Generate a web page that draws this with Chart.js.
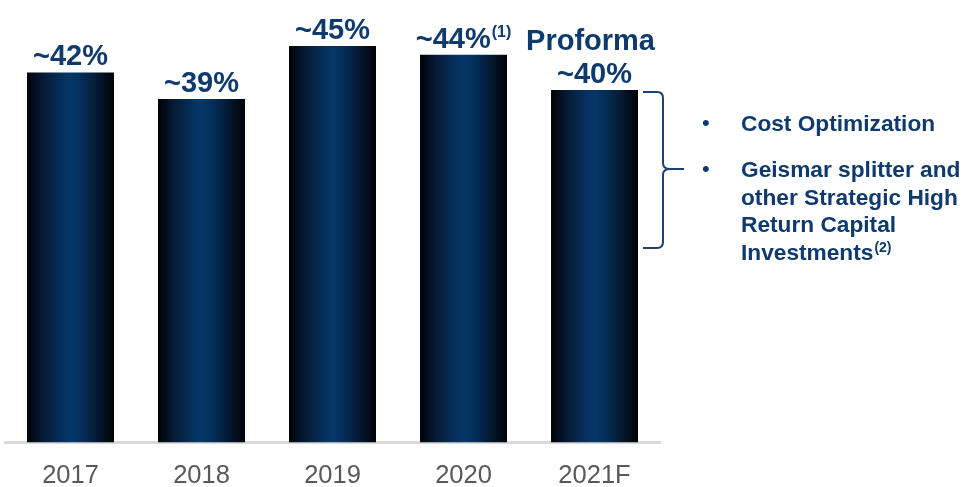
<!DOCTYPE html>
<html>
<head>
<meta charset="utf-8">
<script src="https://cdn.jsdelivr.net/npm/chart.js@4.4.1/dist/chart.umd.min.js"></script>
<style>
  html, body { margin: 0; padding: 0; background: #fff; }
  #wrap { width: 970px; height: 487px; position: relative; }
</style>
</head>
<body>
<div id="wrap"><canvas id="marginChart"></canvas></div>
<script>
const years = ["2017", "2018", "2019", "2020", "2021F"]
const margins = [42, 39, 45, 44, 40]
const marginLabels = ["~42%", "~39%", "~45%", "~44%", "~40%"]
const labelNotes = ["", "", "", "(1)", ""]
const proformaText = "Proforma"
const bullets = [
    ["Cost Optimization"],
    ["Geismar splitter and", "other Strategic High", "Return Capital", "Investments"]
]
const bulletNotes = ["", "(2)"]

const NAVY = "#0e3a6e"
const FONT = "'Liberation Sans', Arial, sans-serif"

function barGradient(context){
    const chart = context.chart
    const xs = chart.scales.x
    if(!chart.chartArea || !xs) return "#05336a"
    const cx = xs.getPixelForValue(context.dataIndex)
    const half = (xs.width / years.length) * 0.664 / 2
    const g = chart.ctx.createLinearGradient(cx - half, 0, cx + half, 0)
    g.addColorStop(0, "#000307")
    g.addColorStop(0.18, "#061a34")
    g.addColorStop(0.4, "#05305d")
    g.addColorStop(0.5, "#053768")
    g.addColorStop(0.62, "#042f5b")
    g.addColorStop(0.82, "#04182f")
    g.addColorStop(1, "#000205")
    return g
}

const annotations = {
    id: "annotations",
    afterDatasetsDraw(chart){
        const ctx = chart.ctx
        const meta = chart.getDatasetMeta(0)
        ctx.save()
        ctx.fillStyle = NAVY
        ctx.textBaseline = "alphabetic"

        // value labels above bars
        meta.data.forEach((bar, i) => {
            ctx.font = "bold 29px " + FONT
            const main = marginLabels[i]
            const wMain = ctx.measureText(main).width
            let wNote = 0
            if(labelNotes[i]){
                ctx.font = "bold 16px " + FONT
                wNote = ctx.measureText(labelNotes[i]).width + 1
            }
            const left = bar.x - (wMain + wNote) / 2
            const base = bar.y - 7
            ctx.font = "bold 29px " + FONT
            ctx.textAlign = "left"
            ctx.fillText(main, left, base)
            if(labelNotes[i]){
                ctx.font = "bold 16px " + FONT
                ctx.fillText(labelNotes[i], left + wMain + 1, base - 11)
            }
        })

        // Proforma over the last bar
        const last = meta.data[meta.data.length - 1]
        ctx.font = "bold 29px " + FONT
        ctx.textAlign = "center"
        ctx.fillText(proformaText, last.x - 4, last.y - 40)

        // bracket
        const bx = last.x + last.width / 2 + 25
        const top = last.y + 2
        const bottom = 248
        const mid = (top + bottom) / 2 - 1
        ctx.strokeStyle = "#1d4170"
        ctx.lineWidth = 2
        ctx.beginPath()
        ctx.moveTo(bx - 20, top)
        ctx.lineTo(bx - 6, top)
        ctx.quadraticCurveTo(bx, top, bx, top + 6)
        ctx.lineTo(bx, mid - 6)
        ctx.quadraticCurveTo(bx, mid, bx + 7, mid)
        ctx.lineTo(bx + 21, mid)
        ctx.moveTo(bx + 7, mid)
        ctx.quadraticCurveTo(bx, mid, bx, mid + 6)
        ctx.lineTo(bx, bottom - 6)
        ctx.quadraticCurveTo(bx, bottom, bx - 6, bottom)
        ctx.lineTo(bx - 20, bottom)
        ctx.stroke()

        // bullet text
        const textX = 741
        const dotX = 706
        const starts = [131, 177]
        const lineH = 27.7
        bullets.forEach((lines, b) => {
            ctx.textAlign = "left"
            ctx.font = "22px " + FONT
            ctx.fillText("\u2022", dotX - 4, starts[b] - 1)
            lines.forEach((line, j) => {
                ctx.font = "bold 22.7px " + FONT
                const y = starts[b] + j * lineH
                ctx.fillText(line, textX, y)
                if(j === lines.length - 1 && bulletNotes[b]){
                    const w = ctx.measureText(line).width
                    ctx.font = "bold 14px " + FONT
                    ctx.fillText(bulletNotes[b], textX + w + 1, y - 8)
                }
            })
        })
        ctx.restore()
    }
}

const ctx = document.getElementById("marginChart").getContext("2d")

const chart = new Chart(ctx, {
    type: "bar",
    data: {
        labels: years,
        datasets: [{
            data: margins,
            backgroundColor: barGradient,
            borderWidth: 0,
            barPercentage: 0.664,
            categoryPercentage: 1
        }]
    },
    options: {
        responsive: true,
        maintainAspectRatio: false,
        animation: false,
        layout: {
            padding: { left: 5, right: 310, top: 2, bottom: 0 }
        },
        plugins: {
            legend: { display: false },
            tooltip: { enabled: false }
        },
        scales: {
            x: {
                grid: { display: false },
                border: { display: true, color: "#d9d9d9", width: 3 },
                ticks: {
                    color: "#595959",
                    padding: 10,
                    font: { family: FONT, size: 25.5 }
                },
                afterFit(scale){
                    scale.height = 44.5
                }
            },
            y: {
                display: false,
                min: 0,
                max: 50
            }
        }
    },
    plugins: [annotations]
})
</script>
</body>
</html>
